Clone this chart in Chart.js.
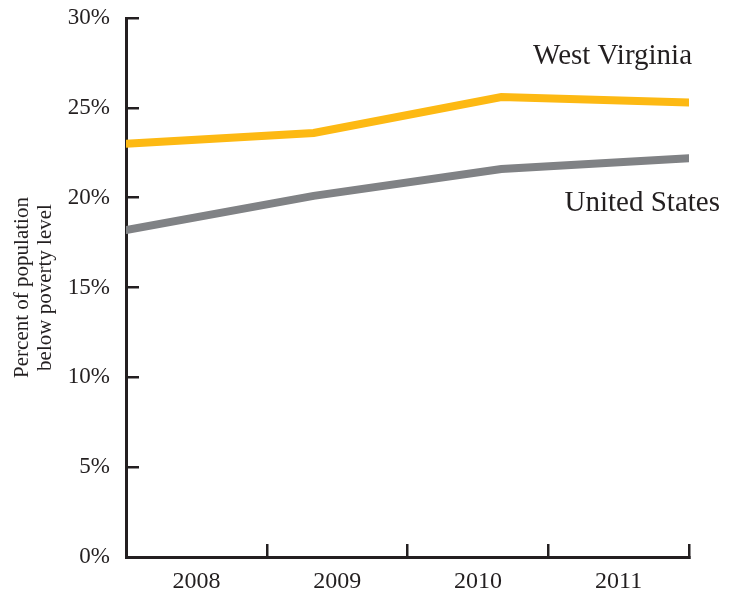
<!DOCTYPE html>
<html>
<head>
<meta charset="utf-8">
<script src="https://cdn.jsdelivr.net/npm/chart.js@4"></script>
<style>
  body { margin: 0; background: #fff; }
  #wrap { width: 735px; height: 592px; }
</style>
</head>
<body>
<div id="wrap"><canvas id="povertyChart"></canvas></div>
<script>
const years = ["2008", "2009", "2010", "2011"];
const westVirginia = [23.0, 23.6, 25.6, 25.3];
const unitedStates = [18.2, 20.1, 21.6, 22.2];
const yTicks = [0, 5, 10, 15, 20, 25, 30];

const ink = "#231f20";
const serif = "'Liberation Serif', 'DejaVu Serif', serif";

// names drawn next to the end of each line
const seriesLabels = {
  id: "seriesLabels",
  afterDatasetsDraw(chart) {
    const { ctx, scales } = chart;
    const x = scales.x.getPixelForValue(years.length - 1);
    ctx.save();
    ctx.font = "29px " + serif;
    ctx.fillStyle = ink;
    ctx.textAlign = "right";
    ctx.textBaseline = "alphabetic";
    ctx.fillText("West Virginia", x + 3, scales.y.getPixelForValue(westVirginia[3]) - 38);
    ctx.fillText("United States", x + 31, scales.y.getPixelForValue(unitedStates[3]) + 53);
    ctx.restore();
  }
};

const ctx = document.getElementById("povertyChart").getContext("2d");

const povertyChart = new Chart(ctx, {
  type: "line",
  data: {
    datasets: [
      {
        label: "West Virginia",
        data: westVirginia.map((v, i) => ({ x: i, y: v })),
        borderColor: "#fdb913",
        borderWidth: 8,
        borderCapStyle: "round",
        pointRadius: 0,
        fill: false
      },
      {
        label: "United States",
        data: unitedStates.map((v, i) => ({ x: i, y: v })),
        borderColor: "#808285",
        borderWidth: 8,
        borderCapStyle: "round",
        pointRadius: 0,
        fill: false
      }
    ]
  },
  options: {
    responsive: true,
    maintainAspectRatio: false,
    animation: false,
    layout: { padding: { top: 18, right: 46, bottom: 0, left: 0 } },
    plugins: { legend: { display: false }, tooltip: { enabled: false } },
    scales: {
      x: {
        type: "linear",
        min: 0,
        max: years.length - 1,
        display: false
      },
      xc: {
        type: "category",
        labels: years,
        position: "bottom",
        offset: true,
        border: { display: true, color: ink, width: 3 },
        grid: {
          offset: true,
          drawOnChartArea: false,
          tickLength: -13,
          color: ink,
          lineWidth: 2.5
        },
        ticks: {
          color: ink,
          font: { family: serif, size: 24 },
          padding: 23,
          maxRotation: 0
        },
        afterFit(scale) { scale.height = 35; }
      },
      y: {
        min: 0,
        max: 30,
        afterBuildTicks(scale) { scale.ticks = yTicks.map(v => ({ value: v })); },
        border: { display: true, color: ink, width: 3 },
        grid: {
          drawOnChartArea: false,
          tickLength: -13,
          color: ink,
          lineWidth: 2.5
        },
        ticks: {
          color: ink,
          font: { family: serif, size: 23 },
          padding: 29,
          callback: v => v + "%"
        },
        title: {
          display: true,
          text: ["Percent of population", "below poverty level"],
          color: ink,
          font: { family: serif, size: 21, lineHeight: 1.1 },
          padding: { top: 11, bottom: 0 }
        },
        afterFit(scale) {
          scale.width = 126;
          // tick padding would otherwise push the plot area inwards
          scale.paddingTop = 0;
          scale.paddingBottom = 0;
        }
      }
    }
  },
  plugins: [seriesLabels]
});
</script>
</body>
</html>
